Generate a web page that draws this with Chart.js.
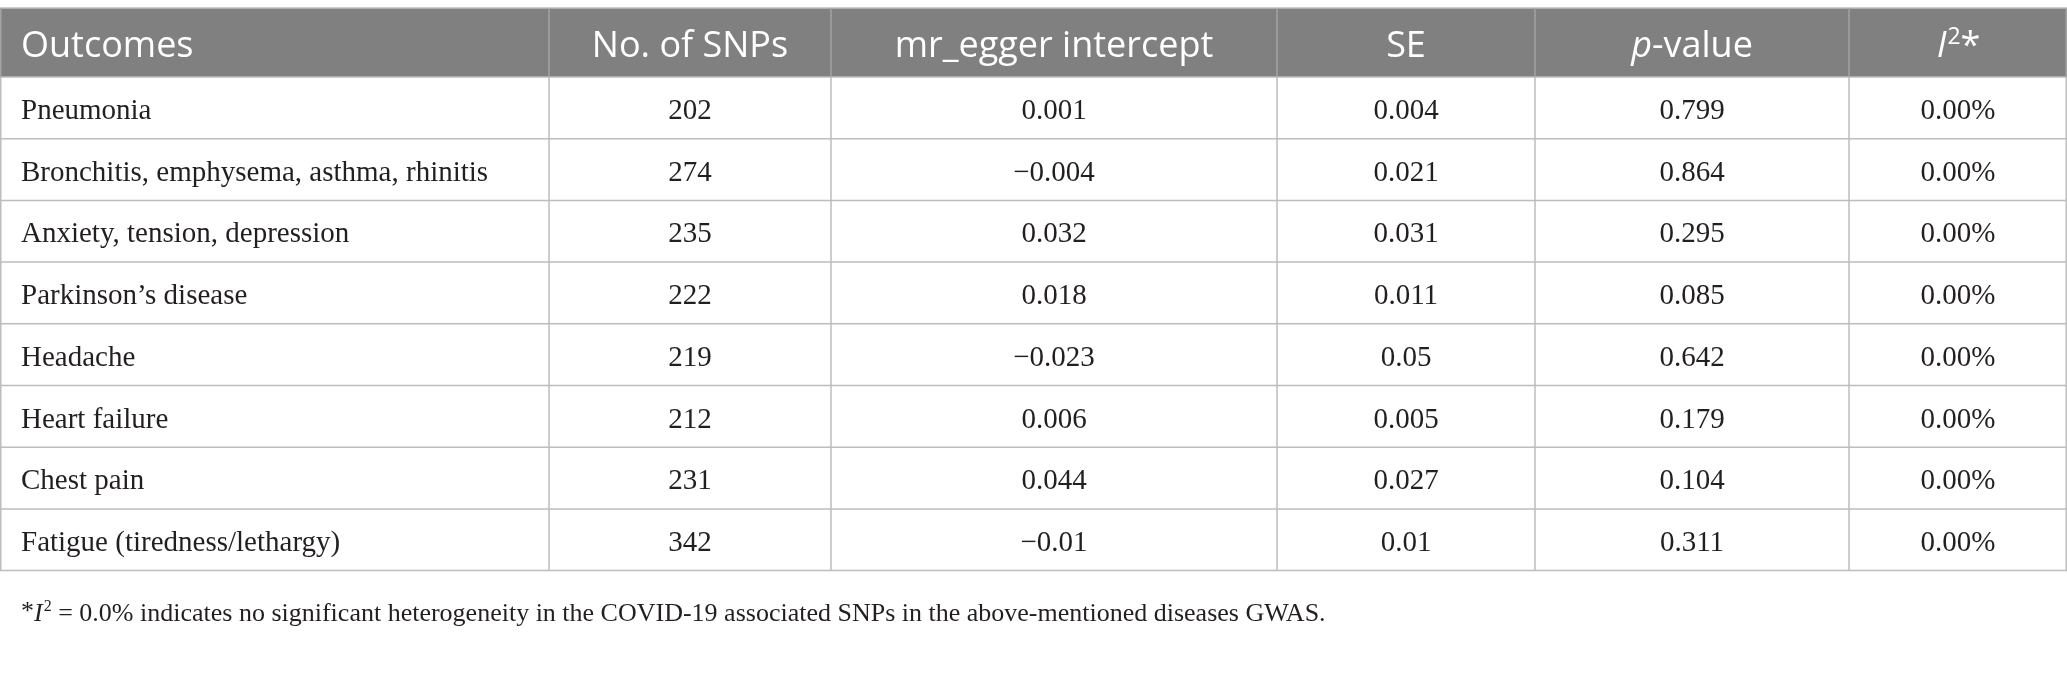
<!DOCTYPE html>
<html lang="en">
<head>
    <meta charset="UTF-8">
    <title>MR-Egger intercept table</title>
    <style>
        body { margin: 0; background: #ffffff; }
        .wrap { width: 2067px; height: 679px; position: relative; }
    </style>
</head>
<body>
<div class="wrap"><canvas id="tbl"></canvas></div>

<script src="https://cdn.jsdelivr.net/npm/chart.js"></script>
<script>
    // Table data
    const headers = ['Outcomes', 'No. of SNPs', 'mr_egger intercept', 'SE', 'p-value', 'I2*'];
    const outcomes = [
        'Pneumonia',
        'Bronchitis, emphysema, asthma, rhinitis',
        'Anxiety, tension, depression',
        'Parkinson\u2019s disease',
        'Headache',
        'Heart failure',
        'Chest pain',
        'Fatigue (tiredness/lethargy)'
    ];
    const snpCounts = [202, 274, 235, 222, 219, 212, 231, 342];
    const eggerIntercept = [0.001, -0.004, 0.032, 0.018, -0.023, 0.006, 0.044, -0.01];
    const stdErr = [0.004, 0.021, 0.031, 0.011, 0.05, 0.005, 0.027, 0.01];
    const pValues = [0.799, 0.864, 0.295, 0.085, 0.642, 0.179, 0.104, 0.311];
    const i2Values = [0, 0, 0, 0, 0, 0, 0, 0];
    const footnote = ' = 0.0% indicates no significant heterogeneity in the COVID-19 associated SNPs in the above-mentioned diseases GWAS.';

    // Layout (in scale units, 1 unit = 1 px here)
    const colEdges = [0, 549, 831, 1277, 1535, 1849, 2067];
    const tableTop = 8, headerBottom = 77, rowHeight = 61.7;

    const SANS = '"Open Sans", "Noto Sans", sans-serif';
    const SERIF = '"Liberation Serif", "DejaVu Serif", serif';
    const HF = 36;   // header font size
    const FF = 26;   // footnote font size

    const fmt = v => String(v).replace('-', '\u2212');

    function cellText(r, c) {
        if (c === 0) return outcomes[r];
        if (c === 1) return String(snpCounts[r]);
        if (c === 2) return fmt(eggerIntercept[r]);
        if (c === 3) return fmt(stdErr[r]);
        if (c === 4) return fmt(pValues[r]);
        return i2Values[r].toFixed(2) + '%';
    }

    const tablePlugin = {
        id: 'tablePlugin',
        afterDraw(chart) {
            const ctx = chart.ctx;
            const xs = chart.scales.x, ys = chart.scales.y;
            const X = v => xs.getPixelForValue(v);
            const Y = v => ys.getPixelForValue(v);
            const nRows = outcomes.length;
            const tableBottom = headerBottom + rowHeight * nRows;

            ctx.save();
            // header background
            ctx.fillStyle = '#7f807f';
            ctx.fillRect(X(colEdges[0]), Y(tableTop), X(colEdges[6]) - X(colEdges[0]), Y(headerBottom) - Y(tableTop));

            // grid lines
            ctx.lineWidth = 1.5;
            ctx.strokeStyle = '#bdbdbd';
            ctx.beginPath();
            ctx.moveTo(X(0), Y(tableTop)); ctx.lineTo(X(2067), Y(tableTop));
            for (let r = 0; r <= nRows; r++) {
                const y = Y(headerBottom + r * rowHeight);
                ctx.moveTo(X(0), y); ctx.lineTo(X(2067), y);
            }
            ctx.stroke();

            // vertical lines: header part lighter on gray
            colEdges.forEach((e, i) => {
                let x = X(e);
                if (i === 0) x += 0.75;
                if (i === colEdges.length - 1) x -= 0.75;
                ctx.strokeStyle = '#a3a3a3';
                ctx.beginPath(); ctx.moveTo(x, Y(tableTop)); ctx.lineTo(x, Y(headerBottom)); ctx.stroke();
                ctx.strokeStyle = '#bdbdbd';
                ctx.beginPath(); ctx.moveTo(x, Y(headerBottom)); ctx.lineTo(x, Y(tableBottom)); ctx.stroke();
            });

            // header text
            ctx.fillStyle = '#ffffff';
            ctx.textBaseline = 'alphabetic';
            const hb = Y(tableTop + 48.5);
            const reg = HF + 'px ' + SANS, ita = 'italic ' + HF + 'px ' + SANS, sup = Math.round(HF * 0.64) + 'px ' + SANS;
            headers.forEach((h, c) => {
                const cx = (X(colEdges[c]) + X(colEdges[c + 1])) / 2;
                if (c === 0) {
                    ctx.font = reg;
                    ctx.textAlign = 'left';
                    ctx.fillText(h, X(colEdges[0]) + 21, hb);
                } else if (c === 4) {
                    ctx.textAlign = 'left';
                    ctx.font = ita;
                    const wp = ctx.measureText('p').width;
                    ctx.font = reg;
                    const wr = ctx.measureText('-value').width;
                    const sx = cx - (wp + wr) / 2;
                    ctx.font = ita;
                    ctx.fillText('p', sx, hb);
                    ctx.font = reg;
                    ctx.fillText('-value', sx + wp, hb);
                } else if (c === 5) {
                    ctx.textAlign = 'left';
                    ctx.font = ita;
                    const wi = ctx.measureText('I').width;
                    ctx.font = sup;
                    const w2 = ctx.measureText('2').width;
                    ctx.font = reg;
                    const ws = ctx.measureText('*').width;
                    const sx = cx - (wi + w2 + ws) / 2;
                    ctx.font = ita;
                    ctx.fillText('I', sx, hb);
                    ctx.font = sup;
                    ctx.fillText('2', sx + wi + 1, hb - 13);
                    ctx.font = reg;
                    ctx.fillText('*', sx + wi + w2 + 1, hb);
                } else {
                    ctx.font = reg;
                    ctx.textAlign = 'center';
                    ctx.fillText(h, cx, hb);
                }
            });

            // body text
            ctx.fillStyle = '#231f20';
            ctx.font = '29px ' + SERIF;
            for (let r = 0; r < nRows; r++) {
                const by = Y(headerBottom + r * rowHeight + 42);
                for (let c = 0; c < 6; c++) {
                    const t = cellText(r, c);
                    if (c === 0) {
                        ctx.textAlign = 'left';
                        ctx.fillText(t, X(colEdges[0]) + 21, by);
                    } else {
                        ctx.textAlign = 'center';
                        ctx.fillText(t, (X(colEdges[c]) + X(colEdges[c + 1])) / 2, by);
                    }
                }
            }

            // footnote
            ctx.textAlign = 'left';
            const fy = Y(621);
            let fx = X(21);
            ctx.font = FF + 'px ' + SERIF;
            ctx.fillText('*', fx, fy - 2);
            fx += ctx.measureText('*').width;
            ctx.font = 'italic ' + FF + 'px ' + SERIF;
            ctx.fillText('I', fx, fy);
            fx += ctx.measureText('I').width + 1;
            ctx.font = Math.round(FF * 0.62) + 'px ' + SERIF;
            ctx.fillText('2', fx, fy - 10);
            fx += ctx.measureText('2').width;
            ctx.font = FF + 'px ' + SERIF;
            ctx.fillText(footnote, fx, fy);
            ctx.restore();
        }
    };

    new Chart(document.getElementById('tbl'), {
        type: 'scatter',
        data: { datasets: [{ data: [], pointRadius: 0 }] },
        options: {
            responsive: true,
            maintainAspectRatio: false,
            animation: false,
            devicePixelRatio: 1,
            layout: { padding: 0 },
            plugins: { legend: { display: false }, tooltip: { enabled: false } },
            scales: {
                x: { type: 'linear', min: 0, max: 2067, display: false },
                y: { type: 'linear', min: 0, max: 679, reverse: true, display: false }
            }
        },
        plugins: [tablePlugin]
    });
</script>
</body>
</html>
